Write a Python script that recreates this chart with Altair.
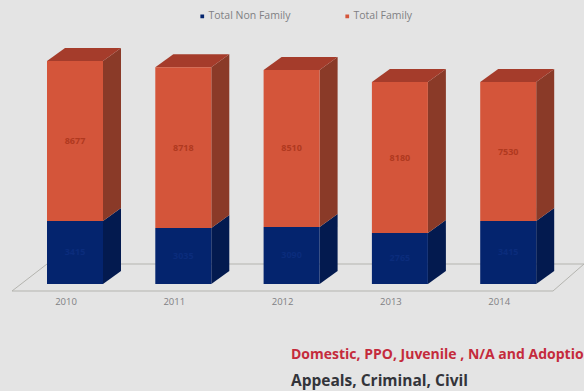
import altair as alt
import pandas as pd

# Case counts per year, as printed on the columns
years = ["2010", "2011", "2012", "2013", "2014"]
non_family = [3415, 3035, 3090, 2765, 3415]
family = [8677, 8718, 8510, 8180, 7530]

NAVY, NAVY_SIDE = "#04246e", "#031a4f"
ORANGE, ORANGE_SIDE, ORANGE_TOP = "#d4553a", "#8a3a28", "#a53c2b"
BACKGROUND = "#e4e4e4"

# Canvas geometry for the hand-built 3D columns
W, H = 584, 391
BASE = 284          # pixel row of the value zero
UNITS_PER_PX = 54.2
LEFT0, STEP = 47.0, 108.3
BAR_W, DEPTH_X = 56, 18
DEPTH_Y = 13 * UNITS_PER_PX

front, sides, tops = [], [], []
for i, year in enumerate(years):
    left = LEFT0 + STEP * i
    right = left + BAR_W
    low = 0
    for name, value, face, side in (
        ("Total Non Family", non_family[i], NAVY, NAVY_SIDE),
        ("Total Family", family[i], ORANGE, ORANGE_SIDE),
    ):
        high = low + value
        front.append(dict(year=year, series=name, x=left, x2=right, y=low, y2=high,
                          mid=(low + high) / 2, cx=(left + right) / 2, value=value,
                          label="#b0391f" if name == "Total Family" else "#0b2c7c"))
        key = f"{year}-{name}"
        sides.append(dict(key=key, color=side, x=right, y=low, y2=high))
        sides.append(dict(key=key, color=side, x=right + DEPTH_X, y=low + DEPTH_Y, y2=high + DEPTH_Y))
        low = high
    tops.append(dict(key=year, x=left, x2=right, y=low))
    tops.append(dict(key=year, x=left + DEPTH_X, x2=right + DEPTH_X, y=low + DEPTH_Y))

front = pd.DataFrame(front)
sides = pd.DataFrame(sides)
tops = pd.DataFrame(tops)

# Outline of the chart floor: left edge, front edge, right edge, back edge
FLOOR_FRONT = -7 * UNITS_PER_PX
FLOOR_BACK = 20 * UNITS_PER_PX
floor = pd.DataFrame({
    "order": range(5),
    "x": [47, 12, 553, 584, 47],
    "y": [FLOOR_BACK, FLOOR_FRONT, FLOOR_FRONT, FLOOR_BACK, FLOOR_BACK],
})

x_scale = alt.Scale(domain=[0, W], range=[0, W], nice=False, zero=False)
y_scale = alt.Scale(domain=[-(H - BASE) * UNITS_PER_PX, BASE * UNITS_PER_PX],
                    range=[H, 0], nice=False, zero=False)
X = alt.X("x:Q", scale=x_scale, axis=None)
Y = alt.Y("y:Q", scale=y_scale, axis=None)

floor_layer = alt.Chart(floor).mark_line(color="#b4b4af", strokeWidth=1).encode(
    x=X, y=Y, order="order:O")

side_layer = alt.Chart(sides).mark_area(opacity=1).encode(
    x=X, y=Y, y2="y2:Q", detail="key:N", color=alt.Color("color:N", scale=None))

top_layer = alt.Chart(tops).mark_area(orient="horizontal", color=ORANGE_TOP, opacity=1).encode(
    y=Y, x=X, x2="x2:Q", detail="key:N")

front_layer = alt.Chart(front).mark_rect().encode(
    x=X, x2="x2:Q", y=Y, y2="y2:Q",
    color=alt.Color(
        "series:N",
        scale=alt.Scale(domain=["Total Non Family", "Total Family"], range=[NAVY, ORANGE]),
        legend=alt.Legend(
            title=None, orient="none", legendX=197, legendY=11, direction="horizontal",
            symbolType="square", symbolSize=14, labelFontSize=10.5, labelColor="#808083",
            labelFont="Open Sans", columnPadding=51, symbolStrokeWidth=0, labelOffset=1,
        ),
    ),
)

value_layer = alt.Chart(front).mark_text(font="Open Sans", fontSize=9, fontWeight="bold").encode(
    x=alt.X("cx:Q", scale=x_scale, axis=None),
    y=alt.Y("mid:Q", scale=y_scale, axis=None),
    text="value:Q",
    color=alt.Color("label:N", scale=None),
)

year_layer = alt.Chart(pd.DataFrame({
    "year": years,
    "cx": [LEFT0 + STEP * i + 19 for i in range(len(years))],
})).mark_text(font="Open Sans", fontSize=9.5, color="#808083").encode(
    x=alt.X("cx:Q", scale=x_scale, axis=None),
    y=alt.value(302),
    text="year:N",
)

note_red = alt.Chart(pd.DataFrame({"t": ["Domestic, PPO, Juvenile , N/A and Adoption"]})).mark_text(
    font="Open Sans", fontSize=14, fontWeight="bold", align="left", color="#c42b3c",
).encode(x=alt.value(291), y=alt.value(355), text="t:N")

note_dark = alt.Chart(pd.DataFrame({"t": ["Appeals, Criminal, Civil"]})).mark_text(
    font="Open Sans", fontSize=15.5, fontWeight="bold", align="left", color="#33343a",
).encode(x=alt.value(291), y=alt.value(381), text="t:N")

chart = (
    alt.layer(floor_layer, side_layer, top_layer, front_layer, value_layer,
              year_layer, note_red, note_dark)
    .resolve_scale(color="independent")
    .properties(width=W, height=H, padding=0, background=BACKGROUND,
                autosize=alt.AutoSizeParams(type="none"))
    .configure_view(stroke=None)
)

chart.save("out.html", embed_options={"renderer": "svg", "actions": False})
